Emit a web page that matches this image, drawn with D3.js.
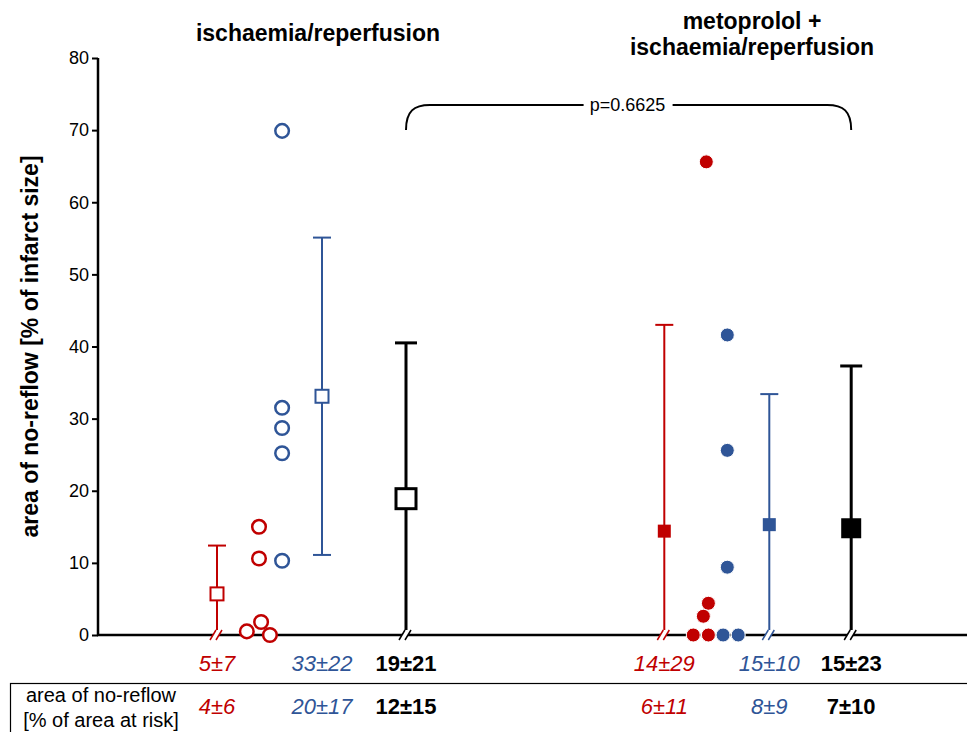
<!DOCTYPE html>
<meta charset="utf-8">
<style>
  body { margin: 0; background: #fff; }
  svg text { font-family: "Liberation Sans", Arial, sans-serif; }
</style>
<script src="https://d3js.org/d3.v7.min.js"></script>
<div id="chart"></div>
<script>
// ---- data ----
const groups = ["ischaemia/reperfusion", "metoprolol + ischaemia/reperfusion"];
const series = ["red", "blue", "black"];
// mean ± SD of area of no-reflow [% of infarct size]
const meansIR = [5.7, 33.1, 18.9];
const sdIR = [6.7, 22.0, 21.6];
const meansMeto = [14.4, 15.3, 14.8];
const sdMeto = [28.6, 18.1, 22.5];
// individual values
const redIR = [15.0, 10.6, 1.8, 0.5, 0.0];
const blueIR = [69.9, 31.5, 28.7, 25.2, 10.3];
const redMeto = [65.6, 4.4, 2.6, 0.0, 0.0];
const blueMeto = [41.6, 25.6, 9.4, 0.0, 0.0];
// horizontal jitter of the dots (slot units)
const redIRJitter = [0, 0, 0.05, -0.29, 0.26];
const blueIRJitter = [0, 0, 0, 0, 0];
const redMetoJitter = [0, 0.05, -0.07, -0.31, 0.05];
const blueMetoJitter = [0, 0, 0, -0.1, 0.26];
// table labels
const row1IR = ["5±7", "33±22", "19±21"];
const row1Meto = ["14±29", "15±10", "15±23"];
const row2IR = ["4±6", "20±17", "12±15"];
const row2Meto = ["6±11", "8±9", "7±10"];
const pText = "p=0.6625";
const yTicks = [0, 10, 20, 30, 40, 50, 60, 70, 80];

const colors = { red: "#c00000", blue: "#2f5597", black: "#000" };
// slot positions: mean columns and dot columns per group
const meanSlots = [[1, 3.5, 5.5], [11.65, 14.15, 16.1]];
const dotSlots = [[2, 2.55], [12.65, 13.15]];

const W = 967, H = 732;
const svg = d3.select("#chart").append("svg").attr("width", W).attr("height", H);

const x = d3.scaleLinear().domain([0, 18]).range([175, 931]);
const y = d3.scaleLinear().domain([0, 80]).range([635, 58]);

// axes
const yAxis = d3.axisLeft(y).tickValues(yTicks).tickSize(6).tickPadding(3);
const gy = svg.append("g").attr("transform", "translate(98,0)").call(yAxis);
gy.select(".domain").attr("stroke-width", 2.5).attr("d", `M0,${y(80)}V${y(0)}`);
gy.selectAll(".tick line").attr("stroke-width", 2);
gy.selectAll(".tick text").attr("font-size", 18).attr("fill", "#000");

svg.append("line").attr("x1", 97).attr("x2", W).attr("y1", y(0)).attr("y2", y(0))
  .attr("stroke", "#000").attr("stroke-width", 2.5);

svg.append("text").attr("transform", `translate(38,${(y(0) + y(80)) / 2}) rotate(-90)`)
  .attr("text-anchor", "middle").attr("font-size", 23).attr("font-weight", "bold")
  .text("area of no-reflow [% of infarct size]");

// titles
svg.append("text").attr("x", 318).attr("y", 41).attr("text-anchor", "middle")
  .attr("font-size", 23).attr("font-weight", "bold").text(groups[0]);
const t2 = svg.append("text").attr("x", 752).attr("text-anchor", "middle")
  .attr("font-size", 23).attr("font-weight", "bold");
t2.append("tspan").attr("x", 752).attr("y", 29).text("metoprolol +");
t2.append("tspan").attr("x", 752).attr("y", 55).text("ischaemia/reperfusion");

// bracket with p value
const bx1 = x(meanSlots[0][2]), bx2 = x(meanSlots[1][2]), by = 105, bh = 25, rr = 24;
const pMid = (bx1 + bx2) / 2;
svg.append("path")
  .attr("d", `M${bx1},${by + bh}C${bx1},${by + 6} ${bx1 + 8},${by} ${bx1 + rr},${by}H${pMid - 45}` +
    `M${pMid + 44},${by}H${bx2 - rr}C${bx2 - 8},${by} ${bx2},${by + 6} ${bx2},${by + bh}`)
  .attr("fill", "none").attr("stroke", "#000").attr("stroke-width", 2);
svg.append("text").attr("x", pMid - 1).attr("y", by + 6).attr("text-anchor", "middle")
  .attr("font-size", 18).text(pText);

function breakMark(cx, col) {
  const y0 = y(0);
  svg.append("path").attr("d", `M${cx - 8},${y0 + 5}L${cx - 2},${y0 - 5}L${cx + 4},${y0 - 5}L${cx - 2},${y0 + 5}Z`)
    .attr("fill", "#fff");
  [[-8, -2], [-2, 4]].forEach(o => {
    svg.append("line").attr("x1", cx + o[0]).attr("y1", y0 + 5).attr("x2", cx + o[1]).attr("y2", y0 - 5)
      .attr("stroke", col).attr("stroke-width", 1.5);
  });
}

function errorBar(cx, mean, sd, col, filled, big) {
  const sw = big ? 3 : 2;
  const cap = big ? 11 : 9;
  const lo = mean - sd, hi = mean + sd;
  svg.append("line").attr("x1", cx).attr("x2", cx).attr("y1", y(hi)).attr("y2", y(Math.max(0, lo)))
    .attr("stroke", col).attr("stroke-width", sw);
  svg.append("line").attr("x1", cx - cap).attr("x2", cx + cap).attr("y1", y(hi)).attr("y2", y(hi))
    .attr("stroke", col).attr("stroke-width", sw);
  if (lo > 0) {
    svg.append("line").attr("x1", cx - cap).attr("x2", cx + cap).attr("y1", y(lo)).attr("y2", y(lo))
      .attr("stroke", col).attr("stroke-width", sw);
  } else {
    breakMark(cx + 1, col);
  }
  const s = big ? 20 : 13;
  svg.append("rect").attr("x", cx - s / 2).attr("y", y(mean) - s / 2).attr("width", s).attr("height", s)
    .attr("fill", filled ? col : "#fff").attr("stroke", col).attr("stroke-width", filled ? 0 : (big ? 3 : 2));
}

function dots(vals, jit, slot, col, filled) {
  svg.append("g").selectAll("circle").data(vals).join("circle")
    .attr("cx", (d, i) => x(slot + jit[i]))
    .attr("cy", d => y(d))
    .attr("r", filled ? 7 : 6.8)
    .attr("fill", filled ? col : "#fff")
    .attr("stroke", filled ? "#fff" : col)
    .attr("stroke-width", filled ? 1 : 2.5);
}

// left group (open symbols)
series.forEach((s, i) => errorBar(x(meanSlots[0][i]), meansIR[i], sdIR[i], colors[s], false, s === "black"));
dots(blueIR, blueIRJitter, dotSlots[0][1], colors.blue, false);
dots(redIR, redIRJitter, dotSlots[0][0], colors.red, false);
// right group (filled symbols)
series.forEach((s, i) => errorBar(x(meanSlots[1][i]), meansMeto[i], sdMeto[i], colors[s], true, s === "black"));
dots(redMeto, redMetoJitter, dotSlots[1][0], colors.red, true);
dots(blueMeto, blueMetoJitter, dotSlots[1][1], colors.blue, true);

// table rows
function rowText(labels, slots, yy) {
  labels.forEach((t, i) => {
    const s = series[i];
    svg.append("text").attr("x", x(slots[i])).attr("y", yy).attr("text-anchor", "middle")
      .attr("font-size", 22).attr("fill", colors[s])
      .attr("font-style", s === "black" ? "normal" : "italic")
      .attr("font-weight", s === "black" ? "bold" : "normal")
      .text(t);
  });
}
rowText(row1IR, meanSlots[0], 671);
rowText(row1Meto, meanSlots[1], 671);
rowText(row2IR, meanSlots[0], 714);
rowText(row2Meto, meanSlots[1], 714);

svg.append("rect").attr("x", 10.5).attr("y", 683.5).attr("width", 1000).attr("height", 100)
  .attr("fill", "none").attr("stroke", "#000").attr("stroke-width", 1.2);
const tl = svg.append("text").attr("text-anchor", "middle").attr("font-size", 20);
tl.append("tspan").attr("x", 101).attr("y", 702).text("area of no-reflow");
tl.append("tspan").attr("x", 101).attr("y", 727).text("[% of area at risk]");
</script>
